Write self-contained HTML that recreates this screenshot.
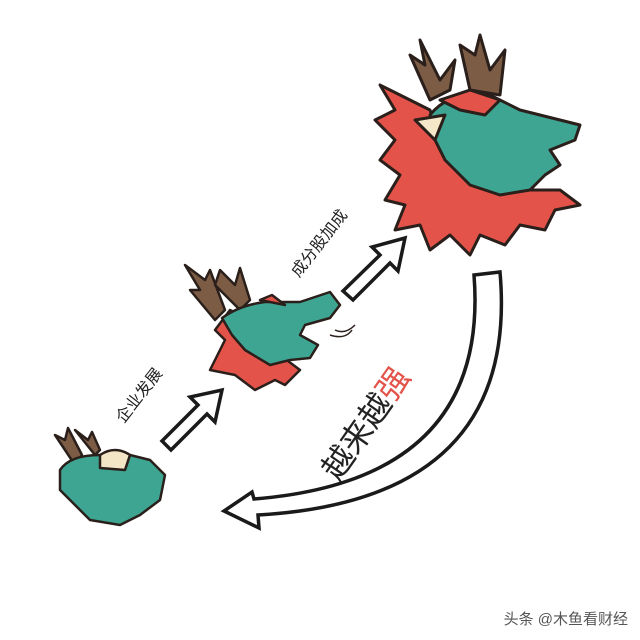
<!DOCTYPE html>
<html><head><meta charset="utf-8"><style>
html,body{margin:0;padding:0;background:#fff}
svg{display:block}
text{font-family:"Liberation Sans","Noto Sans CJK SC",sans-serif}
</style></head><body>
<svg width="640" height="640" viewBox="0 0 640 640" xmlns="http://www.w3.org/2000/svg">
<rect width="640" height="640" fill="#fff"/>
<g stroke="#2a1f1a" stroke-width="3" stroke-linejoin="round">
<path d="M430 100 L410 55 L425 65 L420 40 L440 80 L455 60 L450 90 Z" fill="#7d5c46"/>
<path d="M470 90 L460 45 L475 55 L480 35 L490 70 L505 50 L500 95 Z" fill="#7d5c46"/>
<path d="M400 95 L380 85 L395 110 L375 120 L395 140 L380 160 L400 175 L385 200 L405 205 L395 230 L420 225 L430 250 L450 235 L470 255 L480 235 L505 245 L520 225 L545 230 L555 210 L580 205 L560 190 L520 190 L470 170 L440 140 L430 110 Z" fill="#e3534a"/>
<path d="M430 115 Q450 90 490 95 L520 110 L560 120 L580 125 L575 140 L550 150 L560 165 L545 175 L530 190 L500 195 L470 185 L445 160 L435 140 Z" fill="#3fa593"/>
<path d="M415 120 L445 115 L435 140 Z" fill="#f4e8c8"/>
<path d="M440 100 L470 90 L500 100 L485 115 L460 110 Z" fill="#e3534a"/>
</g>
<g stroke="#2a1f1a" stroke-width="2.5" stroke-linejoin="round">
<path d="M215 320 L190 290 L200 290 L185 265 L205 280 L210 270 L225 310 Z" fill="#7d5c46"/>
<path d="M240 310 L215 285 L220 270 L235 285 L240 268 L250 300 Z" fill="#7d5c46"/>
<path d="M230 310 L215 330 L225 340 L210 370 L235 375 L255 390 L275 380 L285 385 L300 370 L260 340 L250 320 Z" fill="#e3534a"/>
<path d="M222 318 Q240 305 265 302 L300 302 L330 292 L340 305 L330 318 L305 325 L300 335 L318 345 L310 358 L290 360 L270 365 L245 350 L232 335 Z" fill="#3fa593"/>
<path d="M260 300 L272 295 L285 305 Z" fill="#e3534a"/>
</g>
<path d="M335 330 Q345 335 355 325 M330 335 Q345 340 352 330" stroke="#2a1f1a" stroke-width="1.5" fill="none"/>
<g stroke="#2a1f1a" stroke-width="2.5" stroke-linejoin="round">
<path d="M75 465 L55 435 L65 440 L68 428 L82 455 Z" fill="#7d5c46"/>
<path d="M95 455 L75 430 L88 440 L92 432 L100 450 Z" fill="#7d5c46"/>
<path d="M60 470 Q70 455 100 455 L130 455 L150 460 L165 475 L160 500 L140 515 L120 525 L90 520 L70 500 L60 490 Z" fill="#3fa593"/>
<path d="M100 455 Q115 445 130 455 L125 470 L100 468 Z" fill="#f2e6c6"/>
</g>
<g fill="#fff" stroke="#1a1a1a" stroke-width="3.5" stroke-linejoin="miter">
<path d="M162 441 L198 405 L190 397 L222 390 L215 422 L207 414 L171 450 Z"/>
<path d="M343 291 L380 255 L372 247 L405 238 L398 271 L390 263 L353 300 Z"/>
<path d="M474 275 L500 272 Q520 500 258 515 L259 528 L224 511 L252 492 L254 499 Q490 480 474 275 Z"/>
</g>
<text x="0" y="0" font-size="16" fill="#222" transform="translate(140,396) rotate(-52)" text-anchor="middle" dominant-baseline="middle">企业发展</text>
<text x="0" y="0" font-size="16" fill="#222" transform="translate(320,244) rotate(-52)" text-anchor="middle" dominant-baseline="middle">成分股加成</text>
<text x="0" y="0" font-size="32" fill="#222" transform="translate(368,425) rotate(-55)" text-anchor="middle" dominant-baseline="middle">越来越<tspan fill="#e3534a">强</tspan></text>
<text x="628" y="624" font-size="15" fill="#555" text-anchor="end">头条 @木鱼看财经</text>
</svg>
</body></html>
